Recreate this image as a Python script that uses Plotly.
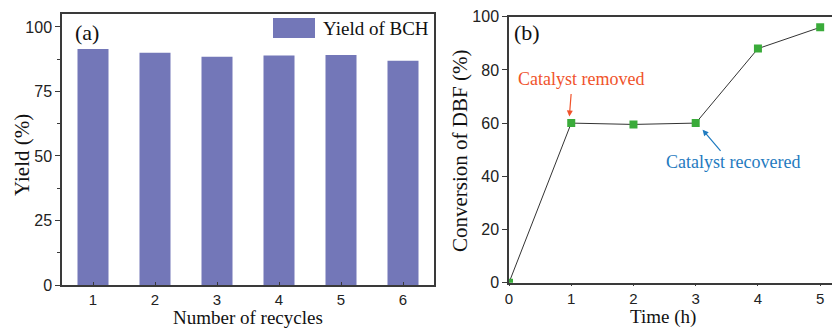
import plotly.graph_objects as go

# Panel (a) data
recycles = [1, 2, 3, 4, 5, 6]
yield_bch = [91.4, 90.0, 88.4, 88.9, 89.1, 86.9]

# Panel (b) data
time_h = [0, 1, 2, 3, 4, 5]
conversion_dbf = [0, 60.0, 59.5, 60.0, 88.0, 96.0]

W, H = 832, 329
BAR_COLOR = "#7377b8"
GREEN = "#3aab3a"
AXC = "#3a3a3a"
SERIF = "Liberation Serif, Times New Roman, serif"
SANS = "Liberation Sans, Arial, sans-serif"

def px(x):
    return x / W

def py(y):
    return 1 - y / H

fig = go.Figure()

fig.add_trace(go.Bar(
    x=recycles, y=yield_bch, width=0.5,
    marker=dict(color=BAR_COLOR, line=dict(width=0)),
    name="Yield of BCH", xaxis="x", yaxis="y", showlegend=False,
))

fig.add_trace(go.Scatter(
    x=time_h, y=conversion_dbf, mode="lines+markers",
    line=dict(color="#333333", width=1),
    marker=dict(symbol="square", size=8, color=GREEN),
    xaxis="x2", yaxis="y2", showlegend=False, cliponaxis=True,
))

ytickfont = dict(family=SANS, size=16, color="#222222")
xtickfont = dict(family=SANS, size=15, color="#222222")

common = dict(showgrid=False, zeroline=False, automargin=False,
              tickcolor=AXC, linecolor=AXC, linewidth=1.5, showline=True)

fig.update_layout(
    width=W, height=H,
    margin=dict(l=0, r=0, t=0, b=0),
    paper_bgcolor="white", plot_bgcolor="white",
    xaxis=dict(
        domain=[px(62), px(434)], range=[0.5, 6.5], anchor="y",
        tickvals=recycles, ticks="inside", ticklen=3, mirror=True,
        tickfont=xtickfont, **common,
    ),
    yaxis=dict(
        domain=[py(285), py(14)], range=[0, 105], anchor="x",
        tickvals=[0, 25, 50, 75, 100], ticks="outside", ticklen=5,
        minor=dict(tickvals=[12.5, 37.5, 62.5, 87.5], ticks="outside", ticklen=3, tickcolor=AXC),
        mirror=True, tickfont=ytickfont, **common,
    ),
    xaxis2=dict(
        domain=[px(509), 1.0], range=[0, 5.19], anchor="y2",
        tickvals=time_h, ticks="outside", ticklen=2, mirror=True,
        tickfont=xtickfont, **common,
    ),
    yaxis2=dict(
        domain=[py(282.7), py(16.7)], range=[0, 100], anchor="x2",
        tickvals=[0, 20, 40, 60, 80, 100], ticks="outside", ticklen=5, mirror=False,
        tickfont=ytickfont, **common,
    ),
)

def label(text, x, y, size, color="#111111", angle=0, xanchor="center", yanchor="middle"):
    fig.add_annotation(text=text, xref="paper", yref="paper",
                       x=px(x), y=py(y), xanchor=xanchor, yanchor=yanchor,
                       textangle=angle, showarrow=False, borderpad=0,
                       font=dict(family=SERIF, size=size, color=color))

# Axis titles
label("Number of recycles", 248, 329, 19, yanchor="bottom")
label("Yield (%)", 22, 155, 21, angle=-90)
label("Time (h)", 663, 329, 19, yanchor="bottom")
label("Conversion of DBF (%)", 460, 151, 21, angle=-90)

# Legend swatch and label for panel (a)
fig.add_shape(type="rect", xref="paper", yref="paper",
              x0=px(273), x1=px(315), y0=py(38), y1=py(18),
              fillcolor=BAR_COLOR, line=dict(width=0))
label("Yield of BCH", 322, 28, 19, xanchor="left")

# Panel labels
label("(a)", 74, 32, 22, xanchor="left")
label("(b)", 513, 33, 22, xanchor="left")

# Annotations in panel (b)
fig.add_annotation(text="Catalyst removed", xref="x2", yref="y2",
                   x=1.15, y=76.5, xanchor="center", yanchor="middle",
                   showarrow=False, font=dict(family=SERIF, size=18, color="#f0532b"))
fig.add_annotation(xref="x2", yref="y2", axref="x2", ayref="y2",
                   x=0.97, y=62.5, ax=1.0, ay=71.5, text="",
                   showarrow=True, arrowhead=2, arrowsize=1, arrowwidth=1.2,
                   arrowcolor="#f0532b")
fig.add_annotation(text="Catalyst recovered", xref="x2", yref="y2",
                   x=3.6, y=45.5, xanchor="center", yanchor="middle",
                   showarrow=False, font=dict(family=SERIF, size=18, color="#1f7bc0"))
fig.add_annotation(xref="x2", yref="y2", axref="x2", ayref="y2",
                   x=3.11, y=57.5, ax=3.42, ay=49.0, text="",
                   showarrow=True, arrowhead=2, arrowsize=1, arrowwidth=1.2,
                   arrowcolor="#1f7bc0")

fig.write_html("out.html", config={"displayModeBar": False},
               post_script="document.body.style.margin='0';document.body.style.overflow='hidden';")
